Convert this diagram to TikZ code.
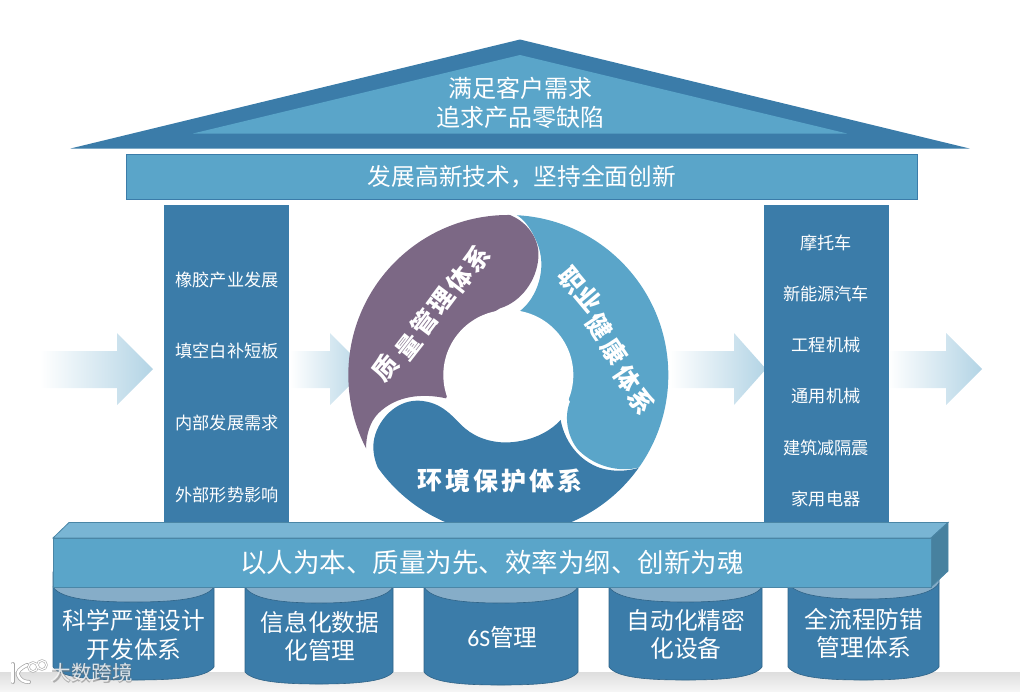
\documentclass[tikz,border=0pt]{standalone}
\usepackage{fontspec}
\setmainfont{Noto Sans CJK SC}
\newfontfamily\latinf{Carlito}
\definecolor{dk}{HTML}{3B7CA9}
\definecolor{lt}{HTML}{5AA5C9}
\definecolor{pur}{HTML}{7C6885}
\definecolor{topf}{HTML}{79B5D4}
\definecolor{sidef}{HTML}{47819F}
\definecolor{edge}{HTML}{4A86A6}
\definecolor{cap}{HTML}{86ADC8}
\definecolor{arrowc}{HTML}{B3D4E5}
\newcommand{\fs}[2]{\fontsize{#1}{#2}\selectfont}
\tikzset{
  wtext/.style={text=white,inner sep=0pt,align=center},
  coltext/.style={wtext,font=\fs{17.2}{20}},
  cyltext/.style={wtext,font=\fs{23.7}{28.5}},
  ringchar/.style={wtext,font=\fs{25}{28}\bfseries},
  flow/.style={shade,left color=white,right color=arrowc,draw=none},
}
\newcommand{\cyl}[7]{% left right topY capBottom sideBottom lowest name
  \path[fill=dk,draw=dk!80!black,line width=.6pt]
    (#1,#3) -- (#1,#5) .. controls (#1+8,#6-2) and (#1+40,#6) .. ({(#1+#2)/2},#6)
    .. controls (#2-40,#6) and (#2-8,#6-2) .. (#2,#5) -- (#2,#3) -- cycle;
  \path[fill=cap,draw=dk!80!black,line width=.6pt]
    (#1,#3) .. controls (#1+8,#4-3) and (#1+40,#4) .. ({(#1+#2)/2},#4)
    .. controls (#2-40,#4) and (#2-8,#4-3) .. (#2,#3) -- (#2,#3-15) -- (#1,#3-15) -- cycle;
  \coordinate (#7) at ({(#1+#2)/2},#3);
}
\begin{document}
\begin{tikzpicture}[x=1pt,y=-1pt]
\useasboundingbox (0,0) rectangle (1020,691);
% floor band
\shade[top color=black!13,bottom color=black!4] (0,672) rectangle (1020,691);
% roof
\fill[dk] (70.5,148.5) -- (520,39.5) -- (969.5,148.5) -- cycle;
\fill[lt] (193,133.5) -- (520,55) -- (847,133.5) -- cycle;
\node[wtext,font=\fs{24}{29}] (roof) at (520,102.5) {满足客户需求\\追求产品零缺陷};
% banner
\node[wtext,draw=dk,fill=lt,line width=.8pt,minimum width=791pt,minimum height=45pt,font=\fs{23.7}{28}] (banner) at (522,177) {发展高新技术，坚持全面创新};
% arrows
\path[flow] (40,351) -- (117,351) -- (117,333) -- (153,369) -- (117,405) -- (117,388) -- (40,388) -- cycle;
\path[flow] (290,351) -- (330,351) -- (330,333) -- (366,369) -- (330,405) -- (330,388) -- (290,388) -- cycle;
\path[flow] (670,351) -- (734,351) -- (734,333) -- (766,369) -- (734,405) -- (734,388) -- (670,388) -- cycle;
\path[flow] (888,351) -- (946,351) -- (946,333) -- (982,369) -- (946,405) -- (946,388) -- (888,388) -- cycle;
% columns
\fill[dk] (164,205) rectangle (289,530);
\fill[dk] (764,205) rectangle (889,530);
\node[coltext] (l1) at (227,280) {橡胶产业发展};
\node[coltext] (l2) at (227,351) {填空白补短板};
\node[coltext] (l3) at (227,423) {内部发展需求};
\node[coltext] (l4) at (227,495) {外部形势影响};
\node[coltext] (r1) at (826,243) {摩托车};
\node[coltext] (r2) at (826,294) {新能源汽车};
\node[coltext] (r3) at (826,345) {工程机械};
\node[coltext] (r4) at (826,396) {通用机械};
\node[coltext] (r5) at (826,448) {建筑减隔震};
\node[coltext] (r6) at (826,499) {家用电器};
% ring (coordinates of the blow-up: 3 units per pixel)
\begin{scope}[shift={(340,205)},x=.3333pt,y=-.3333pt]
  \begin{scope}
    \clip (505,510) circle[radius=160pt];
    \fill[lt] (530,20) -- (1020,20) -- (1020,800) -- (912,783)
       .. controls (850,805) and (770,790) .. (715,735)
       .. controls (685,700) and (670,640) .. (690,590)
       -- (540,318)
       .. controls (590,280) and (625,190) .. (590,110)
       .. controls (575,75) and (555,45) .. (530,30) -- cycle;
    \fill[pur] (78,733) -- (0,760) -- (0,20) -- (510,20) -- (510,30)
       .. controls (570,55) and (600,110) .. (595,160)
       .. controls (590,225) and (545,290) .. (480,310)
       -- (430,340) -- (318,580)
       .. controls (250,565) and (170,570) .. (115,625)
       .. controls (90,650) and (78,690) .. (78,733) -- cycle;
    \fill[dk] (100,725)
       .. controls (100,660) and (160,585) .. (235,587)
       .. controls (310,590) and (340,640) .. (375,670)
       .. controls (410,700) and (460,715) .. (510,712)
       .. controls (570,708) and (625,685) .. (662,645)
       .. controls (670,690) and (700,755) .. (770,785)
       .. controls (815,803) and (870,800) .. (912,783)
       -- (1000,1000) -- (0,1000) -- (0,900) -- (190,900)
       .. controls (130,830) and (100,780) .. (100,725) -- cycle;
  \end{scope}
  \fill[white] (505,510) circle[radius=65pt];
  \foreach \ch/\px/\py/\ang/\nm in {质/137/487/50/qa,量/206/426/52/qb,管/252/352/53/qc,理/304/288/53/qd,体/360/224/52/qe,系/412/160/50/qf,
    职/695/225/-50/ha,业/748/282/-50/hb,健/778/365/-56/hc,康/822/440/-56/hd,体/862/522/-56/he,系/905/590/-56/hf}{
    \node[ringchar,rotate=\ang] (\nm) at (\px,\py) {\ch};
  }
  \foreach \ch/\px/\nm in {环/270/ea,境/354/eb,保/438/ec,护/522/ed,体/606/ee,系/690/ef}{
    \node[ringchar] (\nm) at (\px,828) {\ch};
  }
\end{scope}
% cylinders
\cyl{53}{214}{587}{602}{667}{680}{c1}
\cyl{245}{393}{587}{603}{672}{684}{c2}
\cyl{424}{578}{587}{603}{672}{685}{c3}
\cyl{609}{762}{587}{602}{667}{680}{c4}
\cyl{788}{939}{583}{599}{667}{680}{c5}
\node[cyltext] (t1) at (134,635) {科学严谨设计\\开发体系};
\node[cyltext] (t2) at (320,636.5) {信息化数据\\化管理};
\node[cyltext] (t3) at (502.5,637) {{\latinf 6S}管理};
\node[cyltext] (t4) at (686,634.5) {自动化精密\\化设备};
\node[cyltext] (t5) at (864,633.5) {全流程防错\\管理体系};
% bar
\fill[topf,draw=edge,line width=.8pt] (53,538) -- (69,522.5) -- (948,522.5) -- (931,538) -- cycle;
\fill[sidef,draw=edge,line width=.8pt] (931,538) -- (948,522.5) -- (948,571) -- (931,587) -- cycle;
\node[wtext,draw=edge,fill=lt,line width=.8pt,minimum width=878pt,minimum height=49pt,font=\fs{26.5}{30}] (bar) at (492,562.5) {以人为本、质量为先、效率为纲、创新为魂};
% watermark
\node[text=black!55,text opacity=.5,inner sep=0pt,font=\fs{20.5}{24}\bfseries] (ws) at (92,673.5) {大数跨境};
\node[text=white,text opacity=.8,inner sep=0pt,font=\fs{20.5}{24}] (w) at (91.5,673) {大数跨境};
\begin{scope}[line cap=round,line join=round]
  \draw[black!35,line width=4pt] (12.5,664) -- (12.5,682);
  \draw[black!35,line width=4pt] (27,665) .. controls (19,669) and (17,672) .. (18,675) .. controls (20,680) and (24,682) .. (29,682);
  \draw[black!35,line width=2.4pt] (33,667) circle[radius=4.5pt] (42,665) circle[radius=4.5pt];
  \draw[white,line width=2.6pt] (12.5,664) -- (12.5,682);
  \draw[white,line width=2.6pt] (27,665) .. controls (19,669) and (17,672) .. (18,675) .. controls (20,680) and (24,682) .. (29,682);
  \draw[white,line width=1.2pt] (33,667) circle[radius=4.5pt] (42,665) circle[radius=4.5pt];
\end{scope}
\end{tikzpicture}
\end{document}
